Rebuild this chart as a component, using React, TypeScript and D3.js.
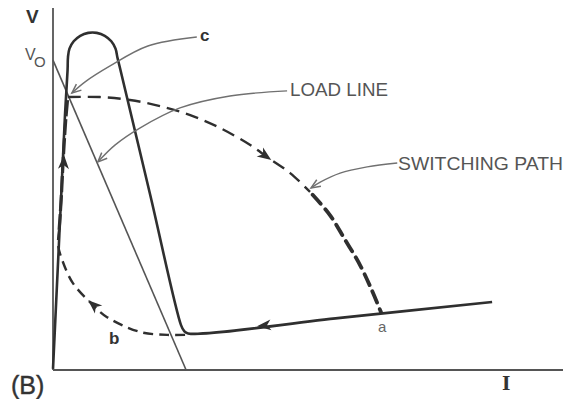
import React from "react";
import * as d3 from "d3";

type Pt = [number, number];

const W = 572;
const H = 399;

// Load line: from V0 on the voltage axis down to the current axis
const loadLine: Pt[] = [
  [0, 85.6],
  [26.1, 0],
];

// Device V-I characteristic (I, V)
const characteristic: Pt[] = [
  [0, 0.3], [0.78, 23.5], [1.57, 47.0], [2.35, 70.4], [2.86, 82.9],
  [2.94, 86.46], [3.23, 88.78], [4.06, 90.81], [5.34, 92.33], [6.91, 93.13],
  [8.58, 93.13], [10.15, 92.33], [11.43, 90.81], [12.26, 88.78], [12.61, 86.46],
  [13.04, 83.98], [19.02, 48.62],
  [25.1, 12.4], [25.7, 10.8], [26.5, 10.1], [56.3, 14.4], [86.1, 18.8],
];

// Switching path, turn-off leg: operating point toward "a"
const switchOffUpper: Pt[] = [
  [2.9, 75.4], [9.2, 75.4], [15.1, 74.6], [21.0, 72.9], [26.9, 70.4],
  [32.7, 66.9], [38.6, 62.2], [42.2, 58.6], [46.5, 54.4], [50.4, 49.2],
];
const switchOffLower: Pt[] = [
  [50.4, 49.2], [54.3, 42.8], [57.3, 35.9], [60.2, 29.0], [62.5, 22.1], [64.3, 16.0],
];

// Switching path, turn-on leg: knee through "b" back to the operating point
const switchOnCurve: Pt[] = [
  [25.9, 9.7], [22.4, 9.7], [17.1, 10.5], [10.6, 14.6], [7.8, 18.0],
  [3.9, 24.0], [1.8, 30.4], [1.0, 34.5], [1.2, 38.7],
];
const switchOnRise: Pt[] = [
  [1.2, 38.7], [1.6, 47.0], [2.0, 58.0], [2.5, 69.1], [2.9, 75.4],
];

// Direction arrows along the path: tip and a point behind it
const pathArrows: { tip: Pt; from: Pt }[] = [
  { tip: [42.8, 58.0], from: [38.6, 62.2] },
  { tip: [6.9, 19.3], from: [10.6, 14.6] },
  { tip: [2.16, 59.4], from: [1.9, 50.0] },
  { tip: [40.0, 12.07], from: [45.0, 12.8] },
];

// Callout leaders (label end first, arrow tip last)
const leaderC: Pt[] = [[28.2, 92.0], [18.6, 89.5], [11.2, 84.0], [6.3, 79.6], [3.7, 76.5]];
const leaderLoad: Pt[] = [[45.9, 77.1], [34.7, 75.7], [24.9, 72.4], [17.1, 66.9], [12.2, 62.2], [8.8, 57.5]];
const leaderSwitch: Pt[] = [[67.5, 57.2], [61.6, 56.1], [56.3, 54.4], [52.4, 51.9], [50.6, 50.3]];

const x = d3.scaleLinear().domain([0, 100]).range([53, 563]);
const y = d3.scaleLinear().domain([0, 100]).range([370, 8]);

const line = d3
  .line<Pt>()
  .x((d) => x(d[0]))
  .y((d) => y(d[1]))
  .curve(d3.curveCatmullRom.alpha(0.5));

const straight = d3
  .line<Pt>()
  .x((d) => x(d[0]))
  .y((d) => y(d[1]));

function filledHead(tip: Pt, from: Pt, len = 14, half = 5.5) {
  const tx = x(tip[0]);
  const ty = y(tip[1]);
  const a = Math.atan2(ty - y(from[1]), tx - x(from[0]));
  const ux = Math.cos(a);
  const uy = Math.sin(a);
  const bx = tx - ux * len;
  const by = ty - uy * len;
  const nx = tx - ux * len * 0.72;
  const ny = ty - uy * len * 0.72;
  return `M${tx},${ty} L${bx - uy * half},${by + ux * half} L${nx},${ny} L${bx + uy * half},${by - ux * half} Z`;
}

function openHead(pts: Pt[], len = 10, spread = 0.4) {
  const tip = pts[pts.length - 1];
  const prev = pts[pts.length - 2];
  const tx = x(tip[0]);
  const ty = y(tip[1]);
  const a = Math.atan2(ty - y(prev[1]), tx - x(prev[0]));
  const p1x = tx - len * Math.cos(a - spread);
  const p1y = ty - len * Math.sin(a - spread);
  const p2x = tx - len * Math.cos(a + spread);
  const p2y = ty - len * Math.sin(a + spread);
  return `M${p1x},${p1y} L${tx},${ty} L${p2x},${p2y}`;
}

const dark = "#2f2f2f";
const grey = "#707070";
const font = "'Liberation Sans', Arial, sans-serif";

export default function App() {
  return (
    <svg
      width={W}
      height={H}
      viewBox={`0 0 ${W} ${H}`}
      style={{ position: "absolute", left: 0, top: 0, background: "#fff" }}
    >
      {/* axes */}
      <line x1={x(0)} y1={y(0)} x2={x(0)} y2={y(100)} stroke="#555" strokeWidth={1.8} />
      <line x1={x(0)} y1={y(0)} x2={x(100)} y2={y(0)} stroke="#555" strokeWidth={1.8} />

      {/* load line */}
      <path d={straight(loadLine) ?? ""} fill="none" stroke="#555" strokeWidth={1.6} />

      {/* characteristic */}
      <path d={line(characteristic) ?? ""} fill="none" stroke={dark} strokeWidth={2.6} strokeLinejoin="round" />

      {/* switching path */}
      <path d={line(switchOffUpper) ?? ""} fill="none" stroke={dark} strokeWidth={2.4} strokeDasharray="13 7" />
      <path d={line(switchOffLower) ?? ""} fill="none" stroke={dark} strokeWidth={3.8} strokeDasharray="12 7" strokeDashoffset={-4} strokeLinecap="round" />
      <path d={line(switchOnCurve) ?? ""} fill="none" stroke={dark} strokeWidth={2.4} strokeDasharray="10 6" />
      <path d={line(switchOnRise) ?? ""} fill="none" stroke={dark} strokeWidth={3.2} strokeDasharray="16 3" />

      {pathArrows.map((a, i) => (
        <path key={i} d={filledHead(a.tip, a.from)} fill={dark} />
      ))}

      {/* callout leaders */}
      {[leaderC, leaderLoad, leaderSwitch].map((pts, i) => (
        <g key={i}>
          <path d={line(pts) ?? ""} fill="none" stroke={grey} strokeWidth={1.4} />
          <path d={openHead(pts)} fill="none" stroke={grey} strokeWidth={1.5} />
        </g>
      ))}

      {/* labels */}
      <g fontFamily={font}>
        <text x={26} y={23} fontSize={19} fontWeight="bold" fill="#333">V</text>
        <text x={25} y={60} fontSize={16} fill="#555">V</text>
        <text x={34} y={67} fontSize={15} fill="#555">O</text>
        <text x={200} y={41} fontSize={17} fontWeight="bold" fill="#333">c</text>
        <text x={290} y={96} fontSize={19} fill="#555" textLength={98} lengthAdjust="spacingAndGlyphs">LOAD LINE</text>
        <text x={398} y={170} fontSize={19} fill="#555" textLength={165} lengthAdjust="spacingAndGlyphs">SWITCHING PATH</text>
        <text x={378} y={332} fontSize={15} fill="#666">a</text>
        <text x={109} y={344} fontSize={17} fontWeight="bold" fill="#333">b</text>
        <text x={502} y={390} fontSize={18} fontWeight="bold" fontFamily="'DejaVu Serif', serif" fill="#333">I</text>
        <text x={11} y={394} fontSize={25} fill="#333" stroke="#333" strokeWidth={0.4}>(B)</text>
      </g>
    </svg>
  );
}
